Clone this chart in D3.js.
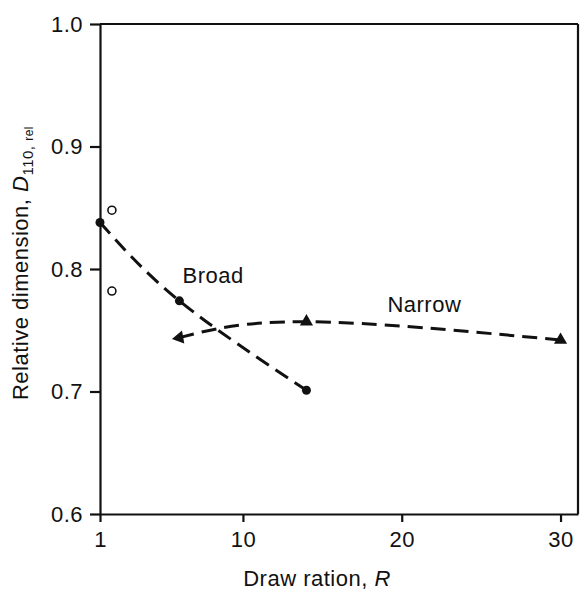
<!DOCTYPE html>
<meta charset="utf-8">
<style>
body { margin: 0; background: #fff; }
text { font-family: Arial, "Liberation Sans", Helvetica, sans-serif; fill: #111; letter-spacing: 0.5px; }
.axis path, .axis line { stroke: #111; stroke-width: 2.2; fill: none; }
.axis text { font-size: 22px; }
</style>
<body>
<script src="https://d3js.org/d3.v7.min.js"></script>
<script>
// tick labels
const xTicks = [1, 10, 20, 30];
const yTicks = [0.6, 0.7, 0.8, 0.9, 1.0];

// "Broad" series (filled circles)
const broadR = [1, 6, 14];
const broadD = [0.838, 0.774, 0.701];

// "Narrow" series (triangles)
const narrowR = [6, 14, 30];
const narrowD = [0.744, 0.757, 0.742];

// loose open circles near R = 1
const openR = [1.75, 1.75];
const openD = [0.848, 0.782];

const W = 581, H = 592;
const m = {left: 100, right: 578, top: 24, bottom: 514};

const x = d3.scaleLinear().domain([1, 31.1]).range([m.left, m.right]);
const y = d3.scaleLinear().domain([0.6, 1.0]).range([m.bottom, m.top]);

const svg = d3.select("body").append("svg")
  .attr("width", W)
  .attr("height", H);

// frame top / right
svg.append("line")
  .attr("x1", m.left).attr("x2", m.right).attr("y1", m.top).attr("y2", m.top)
  .attr("stroke", "#111").attr("stroke-width", 2.2);
svg.append("line")
  .attr("x1", m.right).attr("x2", m.right).attr("y1", m.top).attr("y2", m.bottom)
  .attr("stroke", "#111").attr("stroke-width", 2.2);

svg.append("g")
  .attr("class", "axis")
  .attr("transform", "translate(0," + m.bottom + ")")
  .call(d3.axisBottom(x).tickValues(xTicks).tickSize(8).tickPadding(9).tickSizeOuter(0));

svg.append("g")
  .attr("class", "axis")
  .attr("transform", "translate(" + m.left + ",0)")
  .call(d3.axisLeft(y).tickValues(yTicks).tickFormat(d3.format(".1f")).tickSize(10).tickPadding(7).tickSizeOuter(0));

// dashed curves
const line = d3.line()
  .x(d => x(d[0]))
  .y(d => y(d[1]))
  .curve(d3.curveNatural);

const broad = broadR.map((r, i) => [r, broadD[i]]);
const narrow = narrowR.map((r, i) => [r, narrowD[i]]);
const open = openR.map((r, i) => [r, openD[i]]);

[broad, narrow].forEach(pts => {
  svg.append("path")
    .datum(pts)
    .attr("d", line)
    .attr("fill", "none")
    .attr("stroke", "#111")
    .attr("stroke-width", 3)
    .attr("stroke-dasharray", "15,8");
});

svg.selectAll(".broadpt")
  .data(broad)
  .enter().append("circle")
  .attr("cx", d => x(d[0]))
  .attr("cy", d => y(d[1]))
  .attr("r", 4.5)
  .attr("fill", "#111");

svg.selectAll(".openpt")
  .data(open)
  .enter().append("circle")
  .attr("cx", d => x(d[0]))
  .attr("cy", d => y(d[1]))
  .attr("r", 4)
  .attr("fill", "#fff")
  .attr("stroke", "#111")
  .attr("stroke-width", 1.6);

svg.selectAll(".narrowpt")
  .data(narrow)
  .enter().append("path")
  .attr("d", d3.symbol().type(d3.symbolTriangle).size(75))
  .attr("transform", (d, i) => "translate(" + x(d[0]) + "," + y(d[1]) + ") rotate(" + (i === 0 ? -100 : 0) + ")")
  .attr("fill", "#111");

// series labels
svg.append("text")
  .attr("x", x(6.2)).attr("y", y(0.7887))
  .attr("font-size", 22)
  .text("Broad");
svg.append("text")
  .attr("x", x(19.1)).attr("y", y(0.765))
  .attr("font-size", 22)
  .text("Narrow");

// axis titles
const xt = svg.append("text")
  .attr("x", 317).attr("y", 586)
  .attr("text-anchor", "middle")
  .attr("font-size", 22);
xt.append("tspan").text("Draw ration, ");
xt.append("tspan").attr("font-style", "italic").text("R");

const yt = svg.append("text")
  .attr("transform", "translate(28,263) rotate(-90)")
  .attr("text-anchor", "middle")
  .attr("font-size", 22);
yt.append("tspan").text("Relative dimension, ");
yt.append("tspan").attr("font-style", "italic").text("D");
yt.append("tspan").attr("font-size", 15).attr("dy", 5).text("110, ");
yt.append("tspan").attr("font-size", 12).text("rel");
</script>
</body>
